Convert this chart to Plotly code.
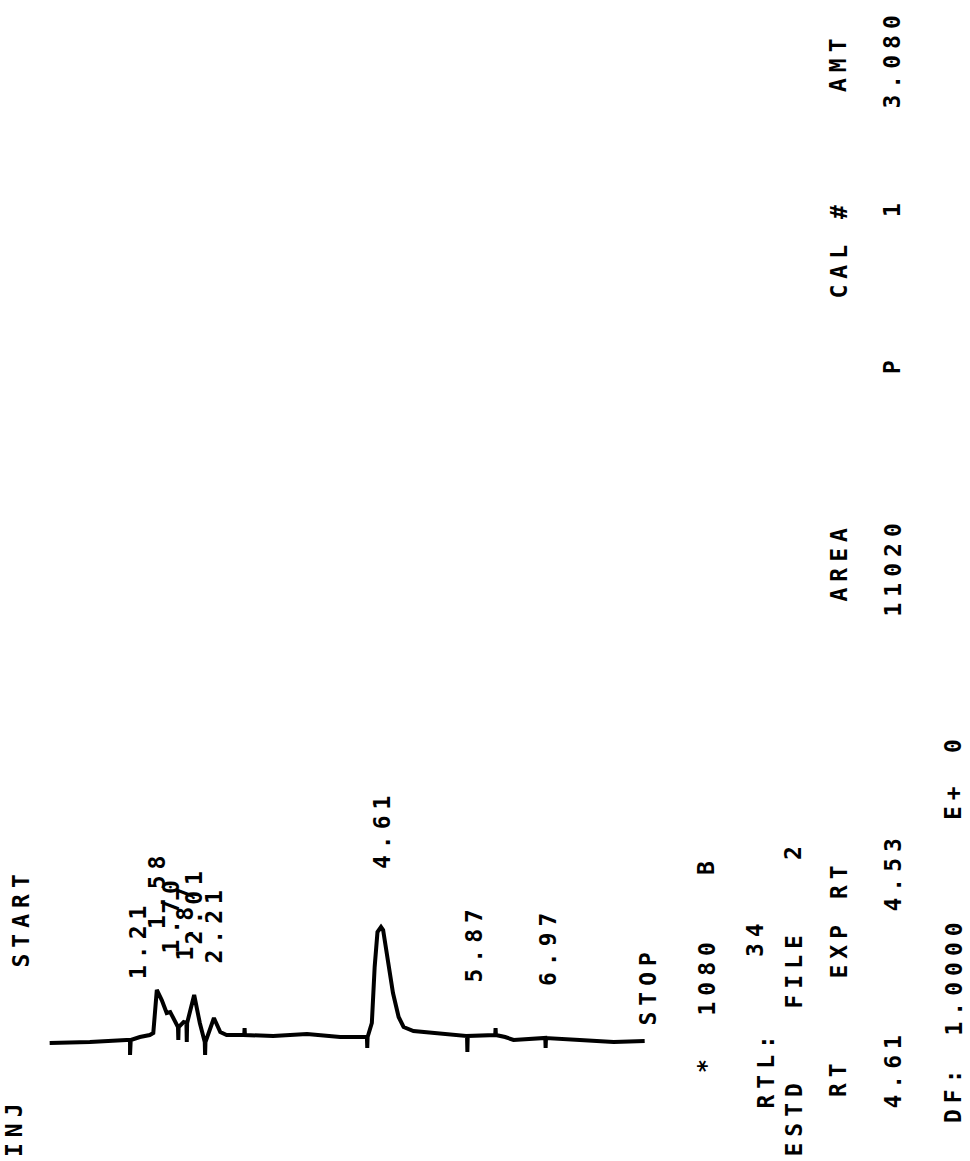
import plotly.graph_objects as go

# ---------------- data ----------------
# chromatogram trace: time (min) and detector signal (arbitrary units)
trace_t = [-0.09, 0.48, 1.00, 1.05, 1.05, 1.06, 1.19, 1.33, 1.38, 1.43, 1.50, 1.57,
           1.62, 1.69, 1.73, 1.735, 1.74, 1.81, 1.85, 1.855, 1.86, 1.96, 2.04, 2.11,
           2.115, 2.12, 2.24, 2.33, 2.42, 2.67, 2.675, 2.68, 3.08, 3.56, 4.03, 4.41,
           4.415, 4.42, 4.48, 4.52, 4.56, 4.61, 4.64, 4.71, 4.78, 4.86, 4.93, 5.07,
           5.35, 5.83, 5.835, 5.84, 6.23, 6.235, 6.24, 6.37, 6.49, 6.94, 6.945, 6.95,
           7.43, 7.91, 8.35]
trace_s = [-3, -2, 0, 0, -15, 0, 3, 5, 7, 50, 40, 27,
           28, 17, 13, 0, 13, 18, 17, -2, 17, 45, 17, -2,
           -15, -2, 22, 8, 5, 5, 12, 5, 4, 6, 3, 3,
           -8, 3, 17, 73, 108, 113, 110, 80, 47, 23, 13, 9,
           7, 4, -12, 4, 5, 12, 5, 3, 0, 2, -8, 2,
           0, -2, -1]

# retention-time labels printed next to the peaks
peak_labels = ["1.21", "1.58", "1.70", "1.87", "2.01", "2.21", "4.61", "5.87", "6.97"]

# report table
header_tokens = ["RT", "EXP RT", "AREA", "CAL #", "AMT"]
value_tokens = ["4.61", "4.53", "11020", "P", "1", "3.080"]
df_tokens = ["DF:", "1.0000", "E+", "0"]
run_tokens = ["*", "1080", "B"]
rtl_tokens = ["RTL:", "34"]
estd_tokens = ["ESTD", "FILE", "2"]

# ---------------- layout helpers (positions, not data) ----------------
W, H = 970, 1161
PX_PER_MIN = 70.5
X0_PX = 56.0          # pixel position of t = 0
BASE_PX = 1040.0      # pixel position of signal 0

# label anchor positions: (time position, signal level of label bottom)
label_pos_t = [1.156, 1.425, 1.617, 1.816, 1.957, 2.227, 4.617, 5.929, 6.972]
label_pos_s = [60, 110, 85, 78, 95, 75, 170, 57, 53]

FONT = "DejaVu Sans Mono"
FS = 23
SPACING = 6


def spaced(txt, sp=SPACING):
    return '<b><span style="letter-spacing:%dpx">%s</span></b>' % (sp, txt)


fig = go.Figure()
fig.add_trace(go.Scatter(x=trace_t, y=trace_s, mode="lines",
                         line=dict(color="black", width=4),
                         hoverinfo="skip", showlegend=False))

annotations = []
for txt, tx, sy in zip(peak_labels, label_pos_t, label_pos_s):
    annotations.append(dict(x=tx, y=sy, xref="x", yref="y", text=spaced(txt),
                            textangle=-90, xanchor="center", yanchor="bottom",
                            showarrow=False, borderpad=0,
                            font=dict(family=FONT, size=FS, color="black")))


def page_text(txt, xc, ybottom, size=FS):
    annotations.append(dict(x=xc / W, y=1 - ybottom / H, xref="paper", yref="paper",
                            text=spaced(txt), textangle=-90, xanchor="center",
                            yanchor="bottom", showarrow=False, borderpad=0,
                            font=dict(family=FONT, size=size, color="black")))


# left column
page_text("INJ", 14, 1158)
page_text("START", 20, 969)
page_text("STOP", 647, 1027)

# run line
for tok, yb in zip(run_tokens, [1074, 1017, 876]):
    page_text(tok, 706, yb)
# RTL line
page_text(rtl_tokens[0], 765, 1110)
page_text(rtl_tokens[1], 755, 958)
# ESTD line
for tok, yb in zip(estd_tokens, [1158, 1010, 861]):
    page_text(tok, 793, yb)
# header line
for tok, yb in zip(header_tokens, [1098, 980, 603, 300, 93]):
    page_text(tok, 838, yb)
# values line
for tok, yb in zip(value_tokens, [1110, 913, 618, 375, 218, 110]):
    page_text(tok, 892, yb)
# DF line
for tok, yb in zip(df_tokens, [1124, 1037, 821, 754]):
    page_text(tok, 953, yb)

fig.update_layout(
    width=W, height=H,
    margin=dict(l=0, r=0, t=0, b=0),
    paper_bgcolor="white", plot_bgcolor="white",
    xaxis=dict(range=[-X0_PX / PX_PER_MIN, (W - X0_PX) / PX_PER_MIN],
               visible=False, fixedrange=True),
    yaxis=dict(range=[BASE_PX - H, BASE_PX], visible=False, fixedrange=True),
    annotations=annotations,
    showlegend=False,
)

fig.write_html("out.html")
